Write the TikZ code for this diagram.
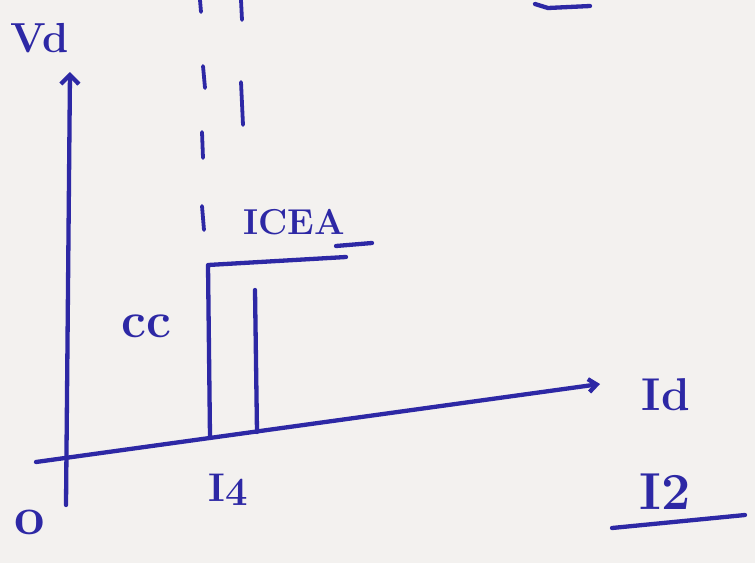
\documentclass[tikz,border=0pt]{standalone}
\usetikzlibrary{arrows.meta}
\definecolor{ink}{RGB}{45,40,165}
\definecolor{paper}{RGB}{243,241,239}
\begin{document}
\begin{tikzpicture}[x=1pt,y=-1pt,
  pen/.style={draw=ink,line width=4.3pt,line cap=round,line join=round},
  dashpen/.style={draw=ink,line width=3.8pt,line cap=round},
  lbl/.style={text=ink,inner sep=0pt,font=\bfseries}]
\fill[paper] (0,0) rectangle (755,563);
\useasboundingbox (0,0) rectangle (755,563);
% axes
\coordinate (ybot) at (66,505);
\coordinate (ytop) at (70,72);
\coordinate (xleft) at (36,462);
\coordinate (xright) at (600,384);
\draw[pen,-{Straight Barb[length=9pt,width=18pt]}] (ybot) -- (ytop);
\draw[pen,-{Straight Barb[length=8pt,width=13pt]}] (xleft) -- (xright);
% CC step line
\coordinate (cb) at (210,437);
\coordinate (ct) at (208,265);
\coordinate (ce) at (346,257);
\draw[pen] (cb) -- (ct) -- (ce);
\coordinate (ua) at (336,246);
\coordinate (ub) at (372,243);
\draw[pen] (ua) -- (ub);
% second vertical line
\coordinate (sb) at (257,432);
\coordinate (st) at (255,290);
\draw[pen] (sb) -- (st);
% dashed verticals
\draw[dashpen] (200,0) -- (201,12);
\draw[dashpen] (203,66) -- (205,88);
\draw[dashpen] (202,132) -- (203,158);
\draw[dashpen] (202,206) -- (204,230);
\draw[dashpen] (241,0) -- (242,20);
\draw[dashpen] (241,82) -- (243,125);
% top-right fragment
\draw[pen] (535,4) -- (548,8) -- (590,6);
% labels
\node[lbl,font=\bfseries\fontsize{42}{42}\selectfont] (vd) at (40,38) {Vd};
\node[lbl,font=\bfseries\fontsize{54}{54}\selectfont] (o) at (30,522) {o};
\node[lbl,font=\bfseries\fontsize{36}{36}\selectfont] (icea) at (294,222) {ICEA};
\node[lbl,font=\bfseries\fontsize{50}{50}\selectfont] (cc) at (146,326) {cc};
\node[lbl,font=\bfseries\fontsize{40}{40}\selectfont] (i4) at (228,490) {I\raisebox{-4pt}{4}};
\node[lbl,font=\bfseries\fontsize{46}{46}\selectfont] (id) at (666,395) {Id};
\node[lbl,font=\bfseries\fontsize{52}{52}\selectfont] (i2) at (665,492) {I2};
\coordinate (i2a) at (612,528);
\coordinate (i2b) at (745,515);
\draw[pen] (i2a) -- (i2b);
\end{tikzpicture}
\end{document}
